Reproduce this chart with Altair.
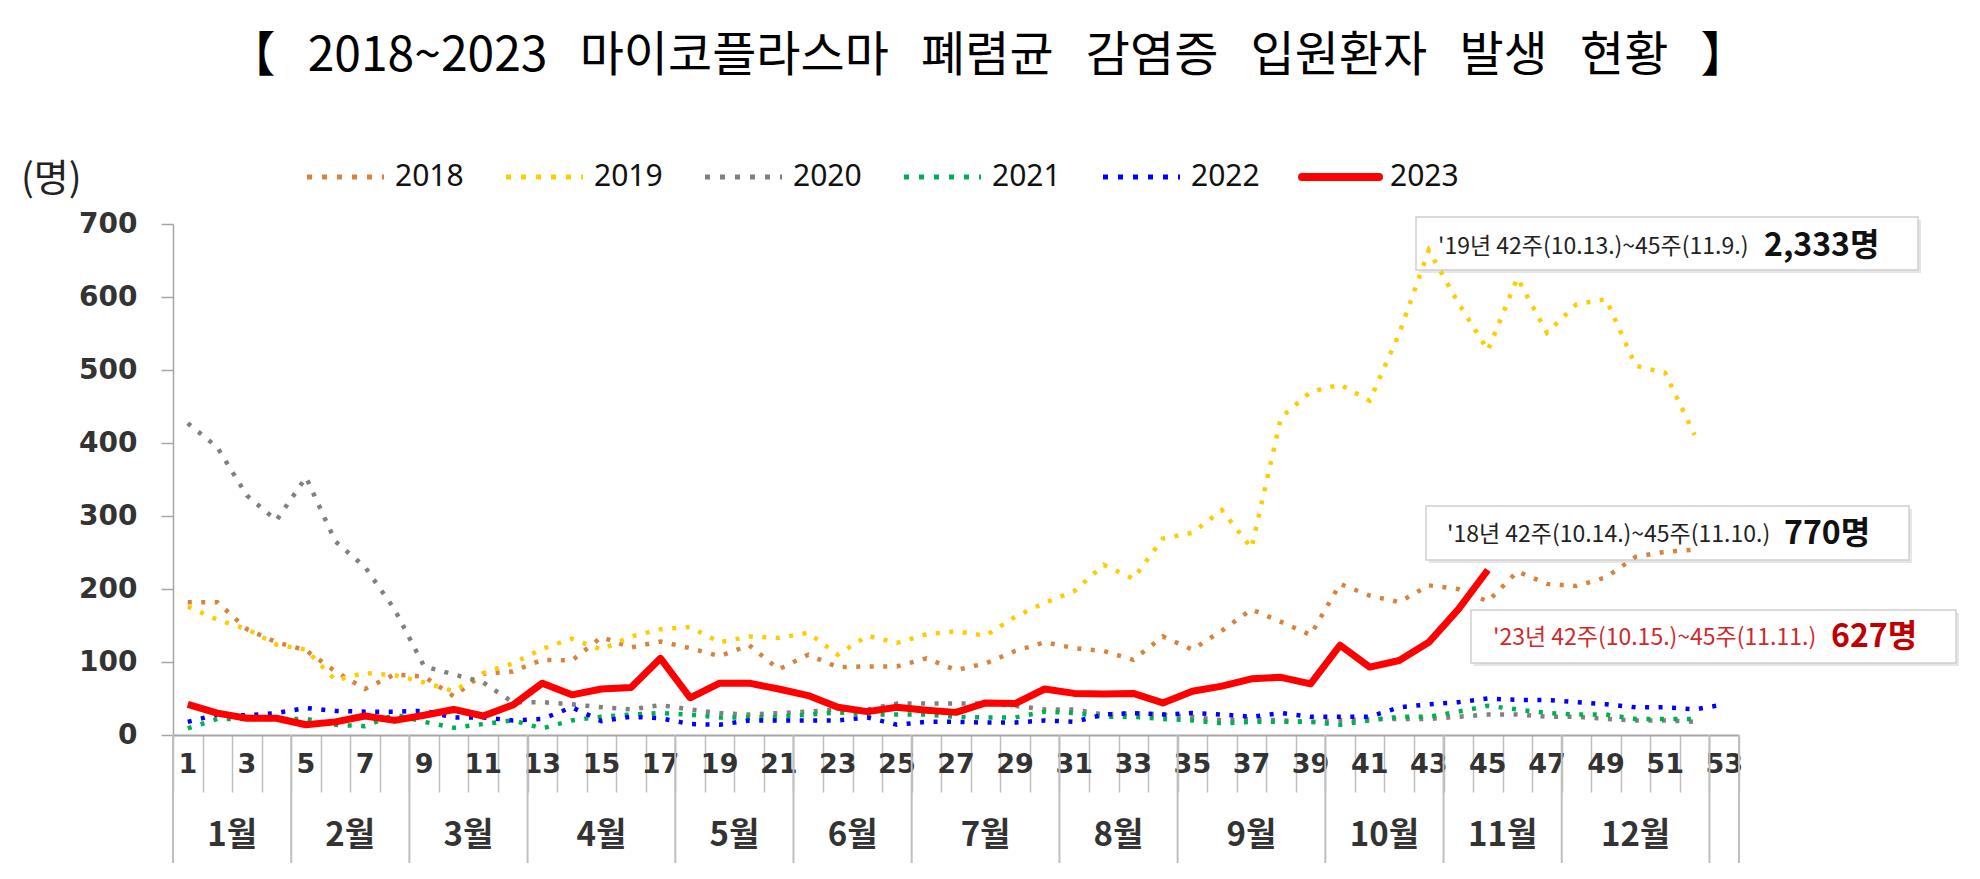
import altair as alt
import pandas as pd

years = ["2018", "2019", "2020", "2021", "2022", "2023"]
colors = ["#D9823B", "#FFCC00", "#808080", "#00B050", "#0000FF", "#FF0000"]

v2018 = [182, 182, 145, 127, 116, 87, 63, 83, 80, 53, 84, 87, 103, 102, 134, 120, 128, 119, 108, 123,
         90, 110, 93, 94, 94, 105, 89, 98, 115, 127, 119, 115, 103, 135, 117, 143, 172, 155, 137, 207,
         191, 182, 205, 200, 183, 224, 207, 204, 216, 244, 251, 254]
v2019 = [176, 158, 145, 124, 117, 75, 85, 82, 72, 60, 85, 98, 118, 132, 117, 135, 145, 148, 127, 135,
         133, 140, 110, 136, 126, 138, 142, 136, 162, 181, 197, 233, 214, 269, 277, 308, 256, 435, 470, 480,
         458, 550, 664, 592, 527, 626, 551, 590, 597, 506, 496, 411]
v2020 = [427, 394, 328, 294, 353, 265, 230, 172, 94, 83, 72, 45, 45, 42, 38, 35, 41, 35, 30, 28,
         30, 32, 35, 35, 43, 43, 43, 43, 40, 35, 35, 28, 30, 28, 25, 20, 22, 20, 18, 20,
         22, 22, 22, 25, 28, 28, 25, 25, 22, 20, 20, 18]
v2021 = [9, 22, 22, 22, 22, 14, 12, 28, 18, 10, 15, 20, 9, 20, 25, 28, 30, 28, 24, 24,
         25, 28, 31, 28, 28, 28, 25, 24, 24, 32, 30, 25, 25, 22, 20, 16, 18, 18, 18, 14,
         20, 25, 25, 32, 40, 35, 30, 28, 28, 22, 22, 22]
v2022 = [18, 28, 27, 30, 37, 33, 32, 32, 33, 24, 24, 20, 22, 38, 19, 25, 23, 15, 14, 20,
         20, 20, 20, 24, 14, 18, 18, 17, 17, 20, 18, 28, 30, 28, 30, 28, 25, 30, 25, 25,
         25, 38, 42, 45, 50, 48, 48, 45, 42, 38, 38, 35, 42]
v2023 = [42, 30, 23, 23, 14, 18, 26, 20, 27, 35, 26, 41, 71, 55, 63, 65, 105, 51, 71, 71,
         63, 54, 38, 32, 38, 34, 31, 44, 43, 63, 57, 56, 57, 44, 60, 67, 77, 79, 70, 123,
         93, 102, 127, 172, 226]

month_names = ["1월", "2월", "3월", "4월", "5월", "6월", "7월", "8월", "9월", "10월", "11월", "12월"]
month_edges = [0.5, 4.5, 8.5, 12.5, 17.5, 21.5, 25.5, 30.5, 34.5, 39.5, 43.5, 47.5, 52.5]
week_labels = list(range(1, 54, 2))

notes_small = ["'19년 42주(10.13.)~45주(11.9.)", "'18년 42주(10.14.)~45주(11.10.)", "'23년 42주(10.15.)~45주(11.11.)"]
notes_big = ["2,333명", "770명", "627명"]

gap = "\u00a0\u00a0\u00a0"
title_words = ["【", "2018~2023", "마이코플라스마", "폐렴균", "감염증", "입원환자", "발생", "현황", "】"]
title_text = gap.join(title_words)

# ---------------------------------------------------------------- layout
W, H = 1566, 511
PAD_L, PAD_T = 165, 216
PAD_R = 1980 - 16 - PAD_L - W
PAD_B = 879 - 16 - PAD_T - H

series = [v2018, v2019, v2020, v2021, v2022, v2023]
rows = []
for yr, vals in zip(years, series):
    for i, v in enumerate(vals):
        rows.append({"year": yr, "week": i + 1, "value": v})
df = pd.DataFrame(rows)

xscale = alt.Scale(domain=[0.5, 53.5], nice=False, zero=False)
yscale = alt.Scale(domain=[0, 700], nice=False)
xaxis = alt.Axis(values=[i + 0.5 for i in range(54)], labels=False, title=None,
                 tickSize=57, tickColor="#BFBFBF", tickWidth=1.5,
                 domainColor="#A6A6A6", domainWidth=2, grid=False)
yaxis = alt.Axis(values=list(range(0, 701, 100)), title=None, grid=False, orient="left",
                 tickSize=12, tickColor="#A6A6A6", tickWidth=1.5, domainColor="#A6A6A6", domainWidth=1.5,
                 labelFont="DejaVu Sans", labelFontSize=28, labelFontWeight="bold",
                 labelColor="#333333", labelPadding=24)
one = pd.DataFrame({"a": [0]})

layers = []

# annotation boxes (behind the lines)
boxes = [(1243, 1745, -7, 46), (1253, 1736, 282, 336), (1298, 1783, 386, 439)]
for (x1, x2, y1, y2) in boxes:
    layers.append(alt.Chart(one).mark_rect(color="#E6E6E6").encode(
        x=alt.value(x1 + 3), x2=alt.value(x2 + 3), y=alt.value(y1 + 3), y2=alt.value(y2 + 3)))
    layers.append(alt.Chart(one).mark_rect(fill="white", stroke="#D0D0D0", strokeWidth=1.5).encode(
        x=alt.value(x1), x2=alt.value(x2), y=alt.value(y1), y2=alt.value(y2)))

dotted = alt.Chart(df[df.year != "2023"]).mark_line(
    strokeDash=[4, 9.5], strokeWidth=4.5
).encode(
    x=alt.X("week:Q", scale=xscale, axis=xaxis),
    y=alt.Y("value:Q", scale=yscale, axis=yaxis),
    color=alt.Color("year:N", scale=alt.Scale(domain=years[:5], range=colors[:5]), legend=None),
    detail="year:N",
)
layers.append(dotted)

red = alt.Chart(df[df.year == "2023"]).mark_line(color=colors[5], strokeWidth=7, strokeJoin="round").encode(
    x=alt.X("week:Q", scale=xscale, axis=xaxis),
    y=alt.Y("value:Q", scale=yscale, axis=yaxis),
)
layers.append(red)

# week labels
wk = pd.DataFrame({"week": week_labels, "lab": [str(w) for w in week_labels]})
layers.append(alt.Chart(wk).mark_text(font="DejaVu Sans", fontSize=27, fontWeight="bold",
                                      color="#333333", baseline="middle").encode(
    x=alt.X("week:Q", scale=xscale, axis=xaxis), y=alt.value(H + 30), text="lab:N"))

# month separators and labels
me = pd.DataFrame({"week": month_edges + [53.5]})
layers.append(alt.Chart(me).mark_rule(color="#BFBFBF", strokeWidth=2).encode(
    x=alt.X("week:Q", scale=xscale, axis=xaxis), y=alt.value(H), y2=alt.value(H + 128)))
mc = pd.DataFrame({"week": [(month_edges[i] + month_edges[i + 1]) / 2 for i in range(12)],
                   "name": month_names})
layers.append(alt.Chart(mc).mark_text(font="Noto Sans CJK KR", fontSize=33, fontWeight="bold",
                                      color="#333333", baseline="middle").encode(
    x=alt.X("week:Q", scale=xscale, axis=xaxis), y=alt.value(H + 101), text="name:N"))

# legend
for i, yr in enumerate(years):
    x0 = 134 + 199 * i
    if yr == "2023":
        sym = alt.Chart(one).mark_rule(color=colors[i], strokeWidth=8, strokeCap="round")
    else:
        sym = alt.Chart(one).mark_rule(color=colors[i], strokeWidth=5, strokeDash=[5, 10])
    layers.append(sym.encode(x=alt.value(x0), x2=alt.value(x0 + 77), y=alt.value(-47)))
    layers.append(alt.Chart(one).mark_text(text=yr, font="Noto Sans", fontSize=30, color="#111111",
                                           align="left", baseline="middle").encode(
        x=alt.value(x0 + 88), y=alt.value(-47)))

# title and unit
layers.append(alt.Chart(one).mark_text(text=title_text, font="Noto Sans CJK KR", fontSize=48,
                                       color="#000000", align="center", baseline="middle").encode(
    x=alt.value(988 - 173), y=alt.value(57 - 224)))
layers.append(alt.Chart(one).mark_text(text="(명)", font="Noto Sans CJK KR", fontSize=38,
                                       color="#222222", align="left", baseline="middle").encode(
    x=alt.value(21 - 173), y=alt.value(180 - 224)))

# annotation texts
small_x = [1265, 1274, 1320]
big_x = [1591, 1611, 1658]
text_y = [23, 311, 414]
small_col = ["#222222", "#222222", "#D02A2A"]
big_col = ["#111111", "#111111", "#C00000"]
for i in range(3):
    layers.append(alt.Chart(one).mark_text(text=notes_small[i], font="Noto Sans CJK KR", fontSize=23,
                                           color=small_col[i], align="left", baseline="middle").encode(
        x=alt.value(small_x[i]), y=alt.value(text_y[i])))
    layers.append(alt.Chart(one).mark_text(text=notes_big[i], font="Noto Sans CJK KR", fontSize=32,
                                           fontWeight="bold", color=big_col[i], align="left",
                                           baseline="middle").encode(
        x=alt.value(big_x[i]), y=alt.value(text_y[i] - 1)))

chart = alt.layer(*layers).properties(
    width=W, height=H,
    autosize=alt.AutoSizeParams(type="none"),
    padding={"left": PAD_L, "top": PAD_T, "right": PAD_R, "bottom": PAD_B},
    background="white",
).configure_view(stroke=None)

chart.save("out.html", embed_options={"renderer": "svg", "actions": False})
